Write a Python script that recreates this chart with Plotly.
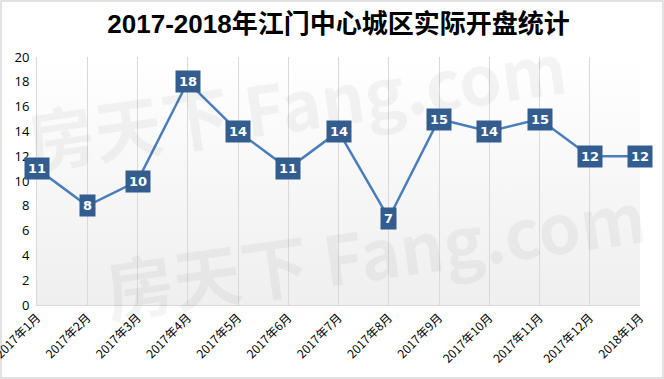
import plotly.graph_objects as go

months = ["2017年1月", "2017年2月", "2017年3月", "2017年4月", "2017年5月", "2017年6月",
          "2017年7月", "2017年8月", "2017年9月", "2017年10月", "2017年11月", "2017年12月", "2018年1月"]
values = [11, 8, 10, 18, 14, 11, 14, 7, 15, 14, 15, 12, 12]
y_ticks = [0, 2, 4, 6, 8, 10, 12, 14, 16, 18, 20]

W, H = 664, 379
ML, MR, MT, MB = 37, 24, 57, 74
pw, ph = W - ML - MR, H - MT - MB

fig = go.Figure()
fig.add_trace(go.Scatter(
    x=months, y=values, mode="lines",
    line=dict(color="#4a7ebb", width=2.5),
    hoverinfo="skip", cliponaxis=False,
))

grad_svg = ("data:image/svg+xml;utf8,"
            "<svg xmlns='http://www.w3.org/2000/svg' width='100' height='100' preserveAspectRatio='none'>"
            "<defs><linearGradient id='g' x1='0' y1='0' x2='0' y2='1'>"
            "<stop offset='0' stop-color='%23ffffff'/><stop offset='1' stop-color='%23efefef'/>"
            "</linearGradient></defs><rect width='100' height='100' fill='url(%23g)'/></svg>")
fig.add_layout_image(dict(source=grad_svg, xref="paper", yref="paper", x=0, y=1,
                          sizex=1, sizey=1, sizing="stretch", layer="below"))

# watermark (added first so it sits beneath the value labels)
for (xp, yp) in [(0.43, 0.82), (0.56, 0.22)]:
    fig.add_annotation(
        xref="paper", yref="paper", x=xp, y=yp, xanchor="center", yanchor="middle",
        showarrow=False, text="<b>房天下 Fang.com</b>", textangle=-8,
        font=dict(family="Noto Sans CJK SC, sans-serif", size=68, color="rgba(0,0,0,0.045)"),
    )

for m, v in zip(months, values):
    fig.add_annotation(
        x=m, y=v, text="<b>%d</b>" % v, showarrow=False,
        font=dict(family="Verdana, DejaVu Sans, sans-serif", size=13, color="white"),
        bgcolor="#335c8f", borderpad=3, xanchor="center", yanchor="middle",
    )

# outer border
fig.add_shape(type="rect", xref="paper", yref="paper",
              x0=(1 - ML) / pw, x1=(W - 1 - ML) / pw,
              y0=-(MB - 1) / ph, y1=(ph + MT - 1) / ph,
              line=dict(color="#d9d9d9", width=1.5), layer="below")

fig.update_layout(
    width=W, height=H,
    margin=dict(l=ML, r=MR, t=MT, b=MB, autoexpand=False),
    paper_bgcolor="white", plot_bgcolor="rgba(0,0,0,0)",
    showlegend=False,
    title=dict(text="<b>2017-2018年江门中心城区实际开盘统计</b>", x=0.5, xref="paper",
               xanchor="center", y=1 - 24 / H, yanchor="middle",
               font=dict(family="Liberation Sans, Noto Sans CJK SC, sans-serif", size=26, color="black")),
    xaxis=dict(range=[0, 12], showgrid=True, gridcolor="#d9d9d9", gridwidth=1,
               tickangle=-45, tickfont=dict(family="Noto Sans CJK SC, sans-serif", size=12, color="black"),
               showline=True, linecolor="#d9d9d9", linewidth=1, ticks="", zeroline=False,
               automargin=False),
    yaxis=dict(range=[0, 20], tickvals=y_ticks, showgrid=False, zeroline=False,
               showline=True, linecolor="#d9d9d9", linewidth=1, ticks="",
               tickfont=dict(family="Open Sans, sans-serif", size=13, color="black"),
               ticklabelstandoff=4, automargin=False),
)

fig.write_html("out.html", config={"displayModeBar": False},
               post_script="document.body.style.margin='0';document.body.style.padding='0';")
